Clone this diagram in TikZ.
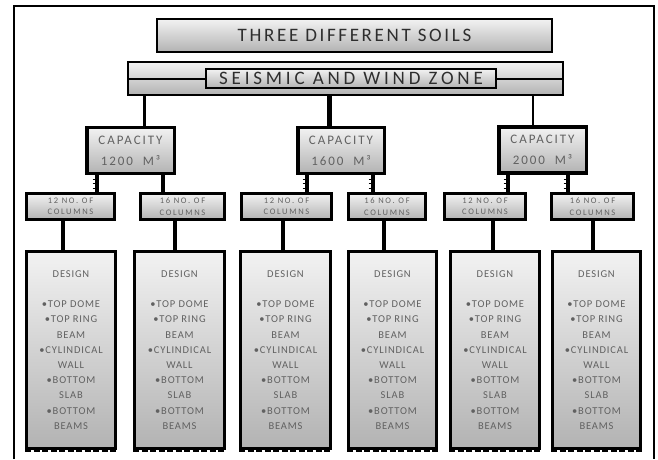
\documentclass[tikz,border=0pt]{standalone}
\usepackage{fontspec}
\setmainfont{Carlito}[LetterSpace=8]
\usepackage{tikz}

\newcommand{\designlist}{DESIGN\\[15.2pt]•TOP DOME\\•TOP RING\\BEAM\\•CYLINDICAL\\WALL\\•BOTTOM\\SLAB\\•BOTTOM\\BEAMS}

\begin{document}
\begin{tikzpicture}
        [x=1pt, y=-1pt,
        every node/.style={inner sep=0pt, text=black!62, align=center},
        box/.style={rectangle, draw=black, top color=black!5, bottom color=black!30},
        headbox/.style={box, line width=2.2pt, text=black!82,
          font=\fontsize{19}{22}\selectfont\addfontfeature{LetterSpace=14}},
        capbox/.style={box, line width=3.5pt, minimum height=46pt,
          font=\fontsize{13}{21}\selectfont\addfontfeature{LetterSpace=15}},
        colbox/.style={box, line width=3pt, minimum height=26pt,
          font=\fontsize{8.5}{11.5}\selectfont\addfontfeature{LetterSpace=20}},
        desbox/.style={box, line width=3pt, minimum height=197pt,
          font=\fontsize{10.5}{15.2}\selectfont},
        link/.style={line width=3.5pt, black}]
        \useasboundingbox (0,0) rectangle (658,459);
        % frame, open at the bottom
        \draw[line width=2pt] (14,459) -- (14,6) -- (654,6) -- (654,459);

        \node (soils) at (354.5,35.5) [headbox, minimum width=395pt, minimum height=33pt]
           {THREE DIFFERENT SOILS};
        \node (zone) at (345.5,78.5) [box, line width=1.6pt, minimum width=435pt, minimum height=33pt] {};
        \node (zonelabel) at (351,78.5) [headbox, line width=1.6pt, minimum width=290pt, minimum height=19pt,
           font=\fontsize{19}{22}\selectfont\addfontfeature{LetterSpace=20}]
           {SEISMIC AND WIND ZONE};
        \draw[line width=2pt] (zone.west) -- (zonelabel.west) (zonelabel.east) -- (zone.east);

        \node (cap1) at (130.5,150.5) [capbox, minimum width=87.5pt] {CAPACITY\\1200\ \ M³};
        \node (cap2) at (341,150.5) [capbox, minimum width=86.5pt] {CAPACITY\\1600\ \ M³};
        \node (cap3) at (542.5,150) [capbox, minimum width=87.5pt] {CAPACITY\\2000\ \ M³};

        \foreach \i/\x/\w/\n in {1/70.5/88/12, 2/182.5/84/16, 3/286.5/90/12,
                                 4/387/77/16, 5/485/81/12, 6/592.5/82/16}
           \node (col\i) at (\x,206.5) [colbox, minimum width=\w pt] {\n\ NO. OF\\COLUMNS};

        \foreach \i/\x/\w in {1/71/89, 2/179.5/90, 3/285.5/90, 4/392.5/88, 5/495/89, 6/596.5/88}
           \node (des\i) at (\x,350) [desbox, minimum width=\w pt] {\designlist};

        % zone to capacities
        \foreach \c/\x/\lw in {cap1/144/3, cap2/329/5, cap3/533/1.5}
           \draw[line width=\lw pt] (\x,0 |- zone.south) -- (\x,0 |- \c.north);
        % capacities to columns
        \foreach \c/\k/\x in {cap1/col1/97, cap1/col2/163, cap2/col3/307,
                              cap2/col4/373, cap3/col5/508, cap3/col6/568}
           \draw[link] (\x,0 |- \c.south) -- (\x,0 |- \k.north);
        \foreach \x in {97, 307, 373, 508, 568}
           \foreach \y in {179, 183.5, 188}
              \draw[line width=1pt] (\x-4.5,\y) -- (\x,\y);
        % columns to designs
        \foreach \i/\x in {1/63, 2/175, 3/283, 4/384, 5/493, 6/593}
           \draw[link] (\x,0 |- col\i.south) -- (\x,0 |- des\i.north);
        % torn lower edges
        \foreach \i in {1,...,6}
           \draw[line width=2.5pt, dash pattern=on 6pt off 2.5pt]
              ([yshift=-1pt]des\i.south west) -- ([yshift=-1pt]des\i.south east);
\end{tikzpicture}
\end{document}
